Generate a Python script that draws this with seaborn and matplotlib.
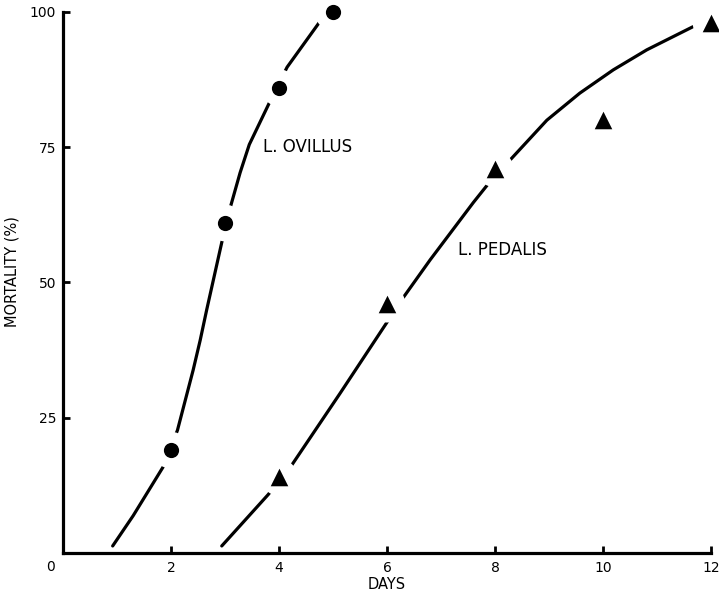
import matplotlib
matplotlib.use('Agg')
import matplotlib.pyplot as plt
import seaborn as sns

# observed mortality points
ovillus_days = [2, 3, 4, 5]
ovillus_mort = [19, 61, 86, 100]
pedalis_days = [4, 6, 8, 10, 12]
pedalis_mort = [14, 46, 71, 80, 98]

# hand-drawn fitted curves
ovillus_curve_x = [0.92, 1.30, 1.86, 2.12, 2.41, 2.54, 2.66, 2.94, 3.11, 3.28, 3.45, 3.83, 4.15, 4.77]
ovillus_curve_y = [1.3, 6.9, 16.0, 22.7, 33.8, 39.3, 44.9, 57.4, 64.3, 70.3, 75.5, 83.4, 89.8, 98.4]
pedalis_curve_x = [2.94, 3.80, 4.24, 5.13, 5.99, 6.30, 6.80, 7.60, 7.88, 8.34, 8.96, 9.57, 10.19, 10.81, 11.43, 11.67]
pedalis_curve_y = [1.3, 10.8, 16.3, 29.5, 42.5, 47.2, 54.2, 64.8, 68.3, 73.3, 80.0, 85.0, 89.3, 93.0, 96.1, 97.3]

x_ticks = [2, 4, 6, 8, 10, 12]
y_ticks = [25, 50, 75, 100]

sns.set_style('ticks')
plt.rcParams['font.family'] = ['DejaVu Sans']
plt.rcParams['text.color'] = 'black'
plt.rcParams['xtick.color'] = 'black'
plt.rcParams['ytick.color'] = 'black'
plt.rcParams['axes.labelcolor'] = 'black'
plt.rcParams['axes.edgecolor'] = 'black'

fig = plt.figure(figsize=(7.19, 5.91), dpi=100)
ax = fig.add_axes([0.0876, 0.0643, 0.9013, 0.9154])

# curves
sns.lineplot(x=ovillus_curve_x, y=ovillus_curve_y, ax=ax, color='black', lw=2.3,
             sort=False, estimator=None, zorder=1)
sns.lineplot(x=pedalis_curve_x, y=pedalis_curve_y, ax=ax, color='black', lw=2.3,
             sort=False, estimator=None, zorder=1)

# white halos make the gaps in the curves around each point
all_days = ovillus_days + pedalis_days
all_mort = ovillus_mort + pedalis_mort
sns.scatterplot(x=all_days, y=all_mort, ax=ax, s=700, color='white',
                edgecolor='none', linewidth=0, zorder=5, clip_on=False)

sns.scatterplot(x=ovillus_days, y=ovillus_mort, ax=ax, s=120, marker='o',
                color='black', linewidth=0, zorder=6, clip_on=False)
sns.scatterplot(x=pedalis_days, y=pedalis_mort, ax=ax, s=160, marker='^',
                color='black', linewidth=0, zorder=6, clip_on=False)

ax.text(3.70, 75, 'L. OVILLUS', fontsize=12, va='center', ha='left')
ax.text(7.31, 56, 'L. PEDALIS', fontsize=12, va='center', ha='left')

ax.set_xlim(0, 12)
ax.set_ylim(0, 100)
ax.set_xticks(x_ticks)
ax.set_yticks(y_ticks)
ax.tick_params(direction='in', length=5, width=2, labelsize=10)
ax.tick_params(axis='x', pad=6)
ax.tick_params(axis='y', pad=5)
ax.text(-0.24, -0.026, '0', fontsize=10, ha='center', va='center',
        transform=ax.get_xaxis_transform())

ax.set_xlabel('DAYS', fontsize=10.5)
ax.xaxis.set_label_coords(0.5, -0.045)
ax.set_ylabel('MORTALITY (%)', fontsize=10.5, labelpad=3)
ax.yaxis.set_label_coords(-0.067, 0.52)

sns.despine(ax=ax)
for side in ['left', 'bottom']:
    ax.spines[side].set_linewidth(2.3)

fig.savefig('out.png', dpi=100)
